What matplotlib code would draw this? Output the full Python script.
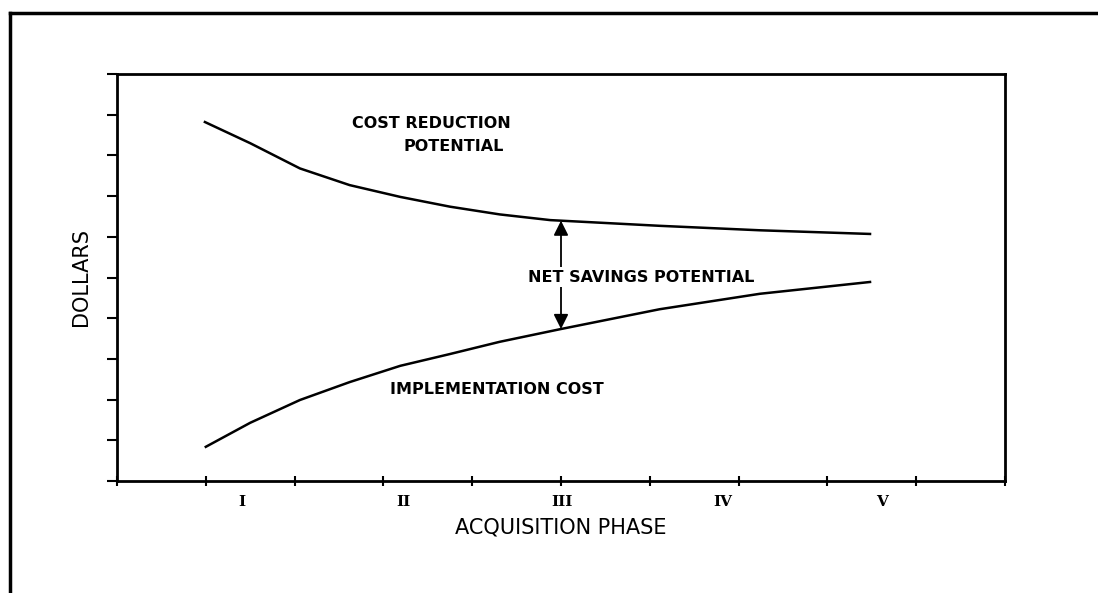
import numpy as np
import matplotlib
matplotlib.use("Agg")
import matplotlib.pyplot as plt
from matplotlib.lines import Line2D

# ---- data ----
phase_x = [0.99, 1.50, 2.06, 2.62, 3.19, 3.75, 4.31, 4.88, 6.11, 7.24, 8.48]
cost_reduction = [8.82, 8.30, 7.68, 7.27, 6.98, 6.74, 6.55, 6.41, 6.27, 6.16, 6.07]

impl_x = [1.00, 1.50, 2.06, 2.62, 3.19, 3.75, 4.31, 4.99, 6.11, 7.24, 8.48]
impl_cost = [0.84, 1.43, 1.99, 2.43, 2.83, 3.12, 3.42, 3.73, 4.22, 4.60, 4.89]

phase_labels = ["I", "II", "III", "IV", "V"]
phase_label_pos = [1.41, 3.22, 5.01, 6.82, 8.61]
arrow_x = 5.0

fig = plt.figure(figsize=(10.98, 5.93), dpi=100)
ax = fig.add_axes([117 / 1098, 1 - 481 / 593, (1005 - 117) / 1098, (481 - 74) / 593])

ax.plot(phase_x, cost_reduction, color="black", lw=1.8, solid_joinstyle="round")
ax.plot(impl_x, impl_cost, color="black", lw=1.8, solid_joinstyle="round")

top = np.interp(arrow_x, phase_x, cost_reduction)
bot = np.interp(arrow_x, impl_x, impl_cost)
ax.annotate("", xy=(arrow_x, bot), xytext=(arrow_x, top),
            arrowprops=dict(arrowstyle="<|-|>", color="black", lw=1.3,
                            mutation_scale=22, shrinkA=0, shrinkB=0))

txt_kw = dict(fontsize=11.5, fontweight="bold", family="DejaVu Sans", color="black")
ax.text((528 - 117) / 88.8, (481 - 277) / 40.7, "NET SAVINGS POTENTIAL", ha="left", va="center",
        bbox=dict(facecolor="white", edgecolor="none", pad=1.5), **txt_kw)
ax.text((352 - 117) / 88.8, (481 - 124) / 40.7, "COST REDUCTION", ha="left", va="center", **txt_kw)
ax.text((403 - 117) / 88.8, (481 - 146) / 40.7, "POTENTIAL", ha="left", va="center", **txt_kw)
ax.text((390 - 117) / 88.8, (481 - 389) / 40.7, "IMPLEMENTATION COST", ha="left", va="center", **txt_kw)

ax.set_xlim(0, 10)
ax.set_ylim(0, 10)
ax.set_xticks(np.arange(0, 11))
ax.set_xticklabels([])
ax.set_xticks(phase_label_pos, minor=True)
ax.set_xticklabels(phase_labels, minor=True, fontsize=11, fontweight="bold", family="DejaVu Serif")
ax.tick_params(axis="x", which="major", direction="inout", length=7, width=1.5)
ax.tick_params(axis="x", which="minor", length=0, pad=10)
ax.set_yticks(np.arange(0, 11))
ax.set_yticklabels([])
ax.tick_params(axis="y", which="major", direction="out", length=7, width=1.5)
for s in ax.spines.values():
    s.set_linewidth(2)

ax.set_xlabel("ACQUISITION PHASE", fontsize=15, labelpad=6)
ax.set_ylabel("DOLLARS", fontsize=15, labelpad=8)

# outer frame
fig.add_artist(Line2D([10 / 1098, 10 / 1098], [0, 1 - 13 / 593], color="black", lw=2.5,
                      transform=fig.transFigure))
fig.add_artist(Line2D([10 / 1098, 1.0], [1 - 13 / 593, 1 - 13 / 593], color="black", lw=2.5,
                      transform=fig.transFigure))

fig.savefig("out.png", dpi=100)
